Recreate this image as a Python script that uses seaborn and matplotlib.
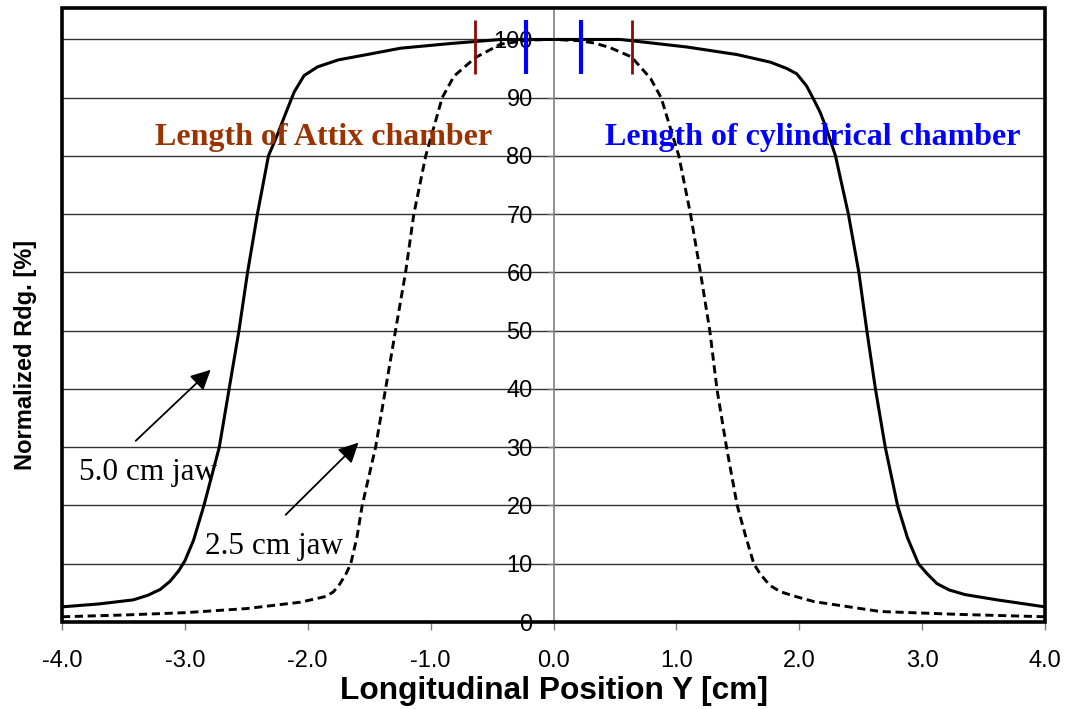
import numpy as np
import pandas as pd
import matplotlib
matplotlib.use("Agg")
import matplotlib.pyplot as plt
import seaborn as sns
from matplotlib.patches import Rectangle

# ---- data ----
jaw50_x = [-4.0, -3.7, -3.42, -3.3, -3.2, -3.12, -3.05, -3.0, -2.93, -2.845, -2.72, -2.64,
           -2.56, -2.49, -2.41, -2.32, -2.25, -2.18, -2.11, -2.03, -1.92, -1.75, -1.52,
           -1.245, -0.84, -0.43, 0.0, 0.545, 1.088, 1.495, 1.766, 1.90, 1.98, 2.06, 2.12,
           2.17, 2.22, 2.295, 2.40, 2.485, 2.55, 2.62, 2.70, 2.80, 2.88, 2.97, 3.04, 3.12,
           3.22, 3.35, 3.61, 4.0]
jaw50_y = [2.6, 3.1, 3.8, 4.6, 5.6, 7.0, 8.8, 10.5, 14, 20, 30, 40,
           50, 60, 70, 80, 83.5, 87.3, 91.0, 93.8, 95.3, 96.5, 97.4,
           98.5, 99.3, 100, 100, 100, 98.7, 97.4, 96.1, 95.0, 94.1, 92.0, 89.6,
           87.5, 84.8, 80, 70, 60, 50, 40, 30, 20, 14.5, 10, 8.3, 6.6,
           5.5, 4.7, 3.8, 2.6]

jaw25_x = [-4.0, -3.5, -3.0, -2.5, -2.06, -1.85, -1.79, -1.74, -1.69, -1.65, -1.60,
           -1.557, -1.448, -1.367, -1.286, -1.204, -1.137, -1.04, -0.906, -0.81, -0.635,
           -0.43, -0.2, 0.0, 0.2, 0.33, 0.46, 0.635, 0.79, 0.876, 1.02, 1.115, 1.196,
           1.272, 1.33, 1.408, 1.495, 1.56, 1.63, 1.68, 1.76, 1.847, 1.95, 2.12, 2.66,
           3.31, 4.0]
jaw25_y = [0.9, 1.2, 1.6, 2.3, 3.4, 4.4, 5.2, 6.5, 8.2, 10, 14.5,
           20, 30, 40, 50, 60, 70, 80, 90, 93.7, 96.9,
           99.2, 99.9, 100, 99.8, 99.4, 98.6, 97.0, 93.3, 90, 80, 70, 60,
           50, 40, 30, 20, 15, 10, 8.3, 6.3, 5.2, 4.5, 3.5, 1.8,
           1.3, 0.9]

attix_edges = [-0.635, 0.635]
cyl_edges = [-0.22, 0.22]
marker_range = [94.0, 103.4]

x_ticks = [-4.0, -3.0, -2.0, -1.0, 0.0, 1.0, 2.0, 3.0, 4.0]
y_ticks = [0, 10, 20, 30, 40, 50, 60, 70, 80, 90, 100]

# ---- styling ----
sns.set_theme(style="white")
plt.rcParams["font.family"] = ["Liberation Sans", "DejaVu Sans"]
plt.rcParams["axes.unicode_minus"] = False
plt.rcParams["text.color"] = "black"
plt.rcParams["axes.labelcolor"] = "black"
plt.rcParams["xtick.color"] = "black"
plt.rcParams["ytick.color"] = "black"

fig = plt.figure(figsize=(10.67, 7.09), dpi=100)
ax = fig.add_axes([0.0581, 0.1227, 0.9213, 0.866])

df50 = pd.DataFrame({"x": jaw50_x, "y": jaw50_y})
df25 = pd.DataFrame({"x": jaw25_x, "y": jaw25_y})

sns.lineplot(data=df50, x="x", y="y", ax=ax, color="black", lw=2.2,
             sort=False, estimator=None)
sns.lineplot(data=df25, x="x", y="y", ax=ax, color="black", lw=2.1,
             sort=False, estimator=None, linestyle=(0, (2.8, 1.6)))

ax.set_xlim(-4, 4)
ax.set_ylim(0, 105.4)

for yv in y_ticks:
    ax.axhline(yv, color="#333333", lw=1.0, zorder=0)

# y axis through x = 0
for s in ["top", "right", "bottom"]:
    ax.spines[s].set_visible(False)
ax.spines["left"].set_position(("data", 0))
ax.spines["left"].set_color("#808080")
ax.spines["left"].set_linewidth(1.2)
ax.spines["left"].set_zorder(0.5)

ax.set_yticks(y_ticks)
ax.set_yticklabels([str(v) for v in y_ticks])
ax.set_xticks(x_ticks)
ax.set_xticklabels([f"{v:.1f}" for v in x_ticks])
ax.tick_params(axis="y", direction="out", length=4, color="#808080", width=1,
               labelsize=17, pad=11, left=True, labelcolor="black")
ax.tick_params(axis="x", direction="out", length=6, color="#808080", width=1,
               labelsize=17, pad=14, bottom=True, labelcolor="black")

# frame
ax.add_patch(Rectangle((0, 0), 1, 1, transform=ax.transAxes, fill=False,
                       ec="black", lw=2.6, clip_on=False, zorder=5))

# chamber markers
ax.vlines(attix_edges, marker_range[0], marker_range[1], color="#8B0A0A", lw=2.0, zorder=4)
ax.vlines(cyl_edges, marker_range[0], marker_range[1], color="#0000FF", lw=3.0, zorder=4)

ax.text(-3.24, 83.1, "Length of Attix chamber", color="#993300", fontsize=23,
        fontweight="bold", family=["Liberation Serif"], ha="left", va="center")
ax.text(0.415, 83.1, "Length of cylindrical chamber", color="#0000FF", fontsize=23,
        fontweight="bold", family=["Liberation Serif"], ha="left", va="center")

arrow_style = "-|>,head_length=0.6,head_width=0.3"
ax.annotate("", xy=(-2.79, 43.3), xytext=(-3.40, 31.1),
            arrowprops=dict(arrowstyle=arrow_style, color="black", lw=1.3,
                            mutation_scale=20, shrinkA=0, shrinkB=0))
ax.annotate("", xy=(-1.587, 30.8), xytext=(-2.18, 18.4),
            arrowprops=dict(arrowstyle=arrow_style, color="black", lw=1.3,
                            mutation_scale=20, shrinkA=0, shrinkB=0))
ax.text(-3.86, 25.7, "5.0 cm jaw", fontsize=22.5, family=["Liberation Serif"],
        ha="left", va="center")
ax.text(-2.84, 12.9, "2.5 cm jaw", fontsize=22.5, family=["Liberation Serif"],
        ha="left", va="center")

ax.set_xlabel("Longitudinal Position Y [cm]", fontsize=22.8, fontweight="bold", labelpad=3)
ax.set_ylabel("")
fig.text(0.024, 0.50, "Normalized Rdg. [%]", fontsize=17, fontweight="bold",
         rotation=90, ha="center", va="center")

fig.savefig("out.png", dpi=100)
